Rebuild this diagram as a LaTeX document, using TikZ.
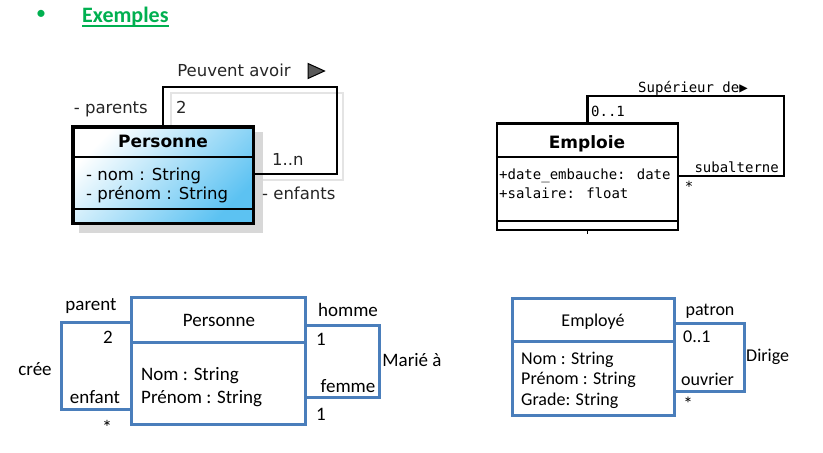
\documentclass[tikz,border=0pt]{standalone}
\usepackage{fontspec}
\usepackage{tikz}
\newfontfamily\carlito{Carlito}
\newfontfamily\dejavu{DejaVu Sans}
\newfontfamily\dejamono{DejaVu Sans Mono}
\definecolor{exgreen}{HTML}{00B050}
\definecolor{umlblue}{HTML}{4A7EBB}
\definecolor{skyblue}{HTML}{5CC2F2}
\definecolor{shadowgray}{HTML}{D8D8D8}
\tikzset{%
    lbl/.style={inner sep=0pt, anchor=base},
    star/.style={inner sep=0pt},
    cal/.style={lbl, font=\carlito\fontsize{#1}{#1}\selectfont},
    dv/.style={lbl, font=\dejavu\fontsize{16.5}{16.5}\selectfont, text=black!85},
    dvbf/.style={lbl, font=\dejavu\bfseries\fontsize{17}{17}\selectfont},
    mono/.style={lbl, font=\dejamono\fontsize{14}{14}\selectfont}
}

\begin{document}
\begin{tikzpicture}[x=1pt,y=-1pt]
    \fill[white] (0,0) rectangle (823,453);
    \useasboundingbox (0,0) rectangle (823,453);
    % titre
    \node[star, text=exgreen, font=\carlito\fontsize{20}{20}\selectfont] (puce) at (41,15) {•};
    \node[lbl, anchor=base west, text=exgreen, font=\carlito\bfseries\fontsize{22}{22}\selectfont] (titre) at (82,22.5) {Exemples};
    \draw[exgreen, line width=1.6] ([yshift=-3.5pt]titre.base west) -- ([yshift=-3.5pt]titre.base east);
    % Personne (haut gauche)
    \draw[shadowgray!70, line width=2] (171,125) |- (343,93) |- (262,180);
    \fill[shadowgray] (79,132) rectangle (263,233);
    \node[draw, line width=3.5, minimum width=180.5pt, minimum height=96.5pt, inner sep=0pt,
          top color=white, bottom color=skyblue, shading angle=45] (pers) at (163,175) {};
    \draw[line width=2] (pers.west |- 0,157) -- (pers.east |- 0,157);
    \draw[line width=2] (pers.west |- 0,209) -- (pers.east |- 0,209);
    \draw[line width=2] (pers.north) |- (337,87) |- (pers.east |- 0,174);
    \node[dvbf] (persnom) at (163,147.5) {Personne};
    \node[dv, anchor=base west, text=black] (persa) at (86,180) {- nom : String};
    \node[dv, anchor=base west, text=black] (persb) at (86,199.5) {- prénom : String};
    \node[dv] (peuvent) at (234,76.5) {Peuvent avoir};
    \draw[line width=1, fill=black!65] (308,63.5) -- (324.5,71) -- (308,78.5) -- cycle;
    \node[dv, anchor=base east] (parents) at (148,113) {- parents};
    \node[dv, anchor=base west] (deux) at (176,113) {2};
    \node[dv, anchor=base west] (unn) at (272,165) {1..n};
    \node[dv, anchor=base west] (enfants) at (262,199) {- enfants};
    % Emploie (haut droite)
    \node[draw, line width=2.5, minimum width=181pt, minimum height=106.5pt, inner sep=0pt] (emp) at (587.5,176.5) {};
    \draw[line width=2.5] (emp.west |- 0,157) -- (emp.east |- 0,157);
    \draw[line width=2.5] (emp.west |- 0,221) -- (emp.east |- 0,221);
    \draw[line width=2.5] (emp.north) |- (784,96) |- (emp.east |- 0,176);
    \draw[line width=1.5] (emp.south) -- ++(0,3);
    \node[dvbf] (empnom) at (587,148.3) {Emploie};
    \node[mono, anchor=base west] (empa) at (499,179.3) {+date\_embauche: date};
    \node[mono, anchor=base west] (empb) at (499,198.3) {+salaire: float};
    \node[mono] (superieur) at (693,92.5) {Supérieur de▶};
    \node[mono, anchor=base west] (zeroun) at (591,116.5) {0..1};
    \node[mono, anchor=base east] (subalterne) at (779,172.5) {subalterne};
    \node[star, font=\dejamono\fontsize{14}{14}\selectfont] (etoile) at (689,186) {*};
    % Personne (bas gauche)
    \node[draw=umlblue, line width=3, minimum width=174pt, minimum height=127pt, inner sep=0pt] (pb) at (218.5,361) {};
    \draw[umlblue, line width=3] (pb.west |- 0,342) -- (pb.east |- 0,342);
    \draw[umlblue, line width=3] (pb.west |- 0,322) -| (61,409) -- (pb.west |- 0,409);
    \draw[umlblue, line width=3] (pb.east |- 0,325) -| (379,397) -- (pb.east |- 0,397);
    \node[cal=19] (pbnom) at (219,326.5) {Personne};
    \node[cal=19, anchor=base west] (pba) at (141,380.5) {Nom : String};
    \node[cal=19, anchor=base west] (pbb) at (141,403) {Prénom : String};
    \node[cal=19] (parent) at (91,310.5) {parent};
    \node[cal=19] (pbdeux) at (108,343.3) {2};
    \node[cal=19] (cree) at (35,375) {crée};
    \node[cal=19] (enfant) at (95,403) {enfant};
    \node[star, font=\carlito\fontsize{20}{20}\selectfont] (pbetoile) at (107,427) {*};
    \node[cal=19] (homme) at (348,316) {homme};
    \node[cal=19] (pbun) at (321,345) {1};
    \node[cal=19] (marie) at (412,366) {Marié à};
    \node[cal=19] (femme) at (348,392.5) {femme};
    \node[cal=19] (pbunb) at (321,420) {1};
    % Employé (bas droite)
    \node[draw=umlblue, line width=3, minimum width=162pt, minimum height=117pt, inner sep=0pt] (eb) at (593.5,357) {};
    \draw[umlblue, line width=3] (eb.west |- 0,341) -- (eb.east |- 0,341);
    \draw[umlblue, line width=3] (eb.east |- 0,323) -| (744,391) -- (eb.east |- 0,391);
    \node[cal=18] (ebnom) at (593,326.5) {Employé};
    \node[cal=18, anchor=base west] (eba) at (521,364) {Nom : String};
    \node[cal=18, anchor=base west] (ebb) at (521,384.5) {Prénom : String};
    \node[cal=18, anchor=base west] (ebc) at (521,405.5) {Grade: String};
    \node[cal=18] (patron) at (710,315) {patron};
    \node[cal=18, anchor=base west] (ebzero) at (683,342) {0..1};
    \node[cal=18, anchor=base west] (dirige) at (746,361.5) {Dirige};
    \node[cal=18, anchor=base west] (ouvrier) at (681,385) {ouvrier};
    \node[star, font=\carlito\fontsize{19}{19}\selectfont] (ebetoile) at (688,403.5) {*};
\end{tikzpicture}
\end{document}
